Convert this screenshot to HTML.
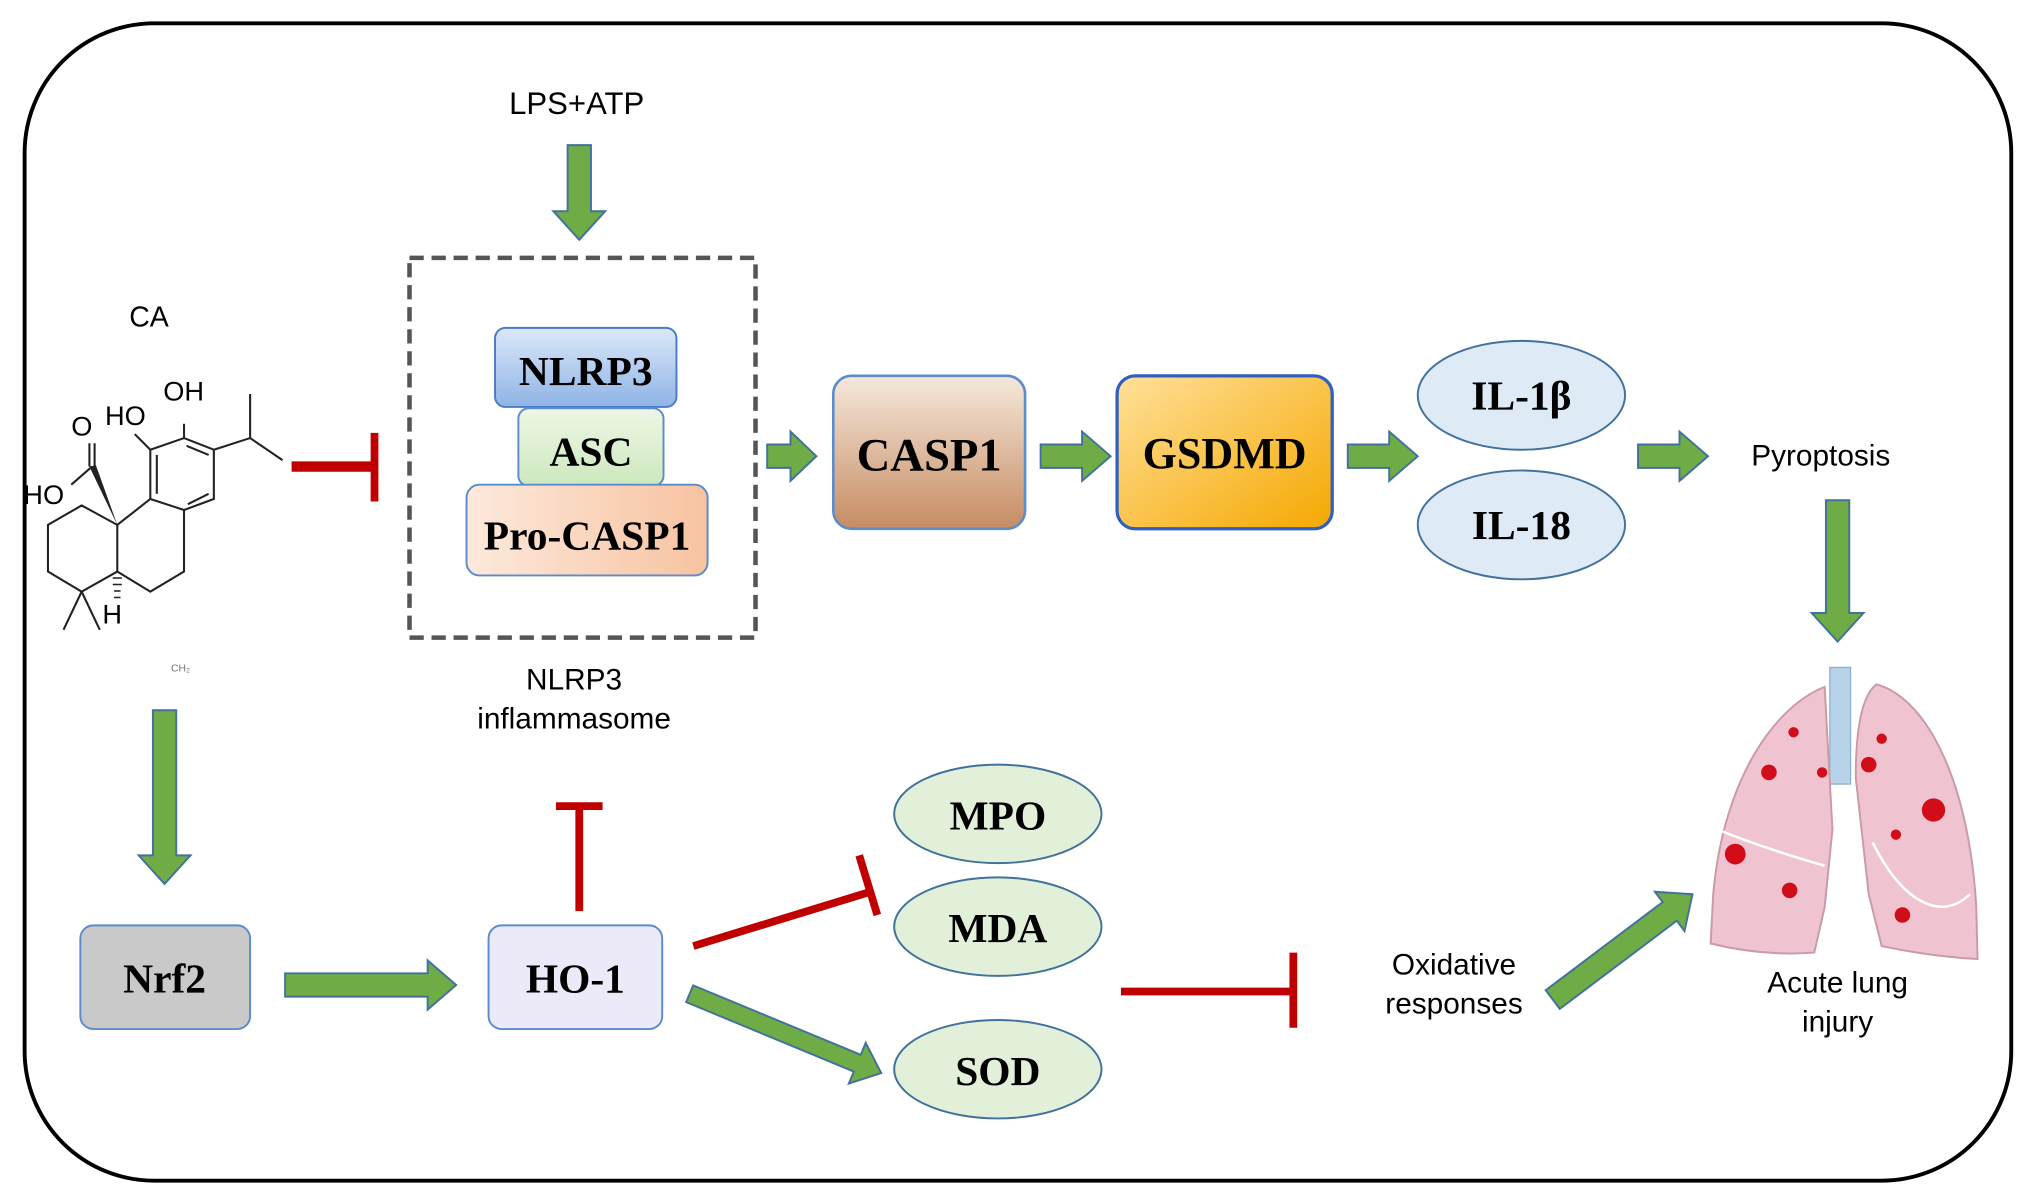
<!DOCTYPE html>
<html><head><meta charset="utf-8"><style>
html,body{margin:0;padding:0;background:#fff;}
svg{display:block;}
text{font-family:"Liberation Sans",sans-serif;}
.b{font-family:"Liberation Serif",serif;font-weight:bold;}
</style></head><body>
<svg width="2032" height="1204" viewBox="0 0 1568 929" preserveAspectRatio="none" xmlns="http://www.w3.org/2000/svg">
<defs>
<linearGradient id="gb" x1="0" y1="0" x2="0" y2="1"><stop offset="0" stop-color="#dbe8f8"/><stop offset="1" stop-color="#8fb4e6"/></linearGradient>
<linearGradient id="gg" x1="0" y1="0" x2="0" y2="1"><stop offset="0" stop-color="#eef7e6"/><stop offset="1" stop-color="#cce8bd"/></linearGradient>
<linearGradient id="go" x1="0" y1="0" x2="1" y2="0"><stop offset="0" stop-color="#fde9dc"/><stop offset="1" stop-color="#f7c3a0"/></linearGradient>
<linearGradient id="gc" x1="0" y1="0" x2="0" y2="1"><stop offset="0" stop-color="#f6e8dc"/><stop offset="1" stop-color="#c58c62"/></linearGradient>
<linearGradient id="gs" x1="0" y1="0" x2="1" y2="1"><stop offset="0" stop-color="#ffe09a"/><stop offset="1" stop-color="#f5a800"/></linearGradient>
</defs>
<rect x="19" y="18" width="1533" height="893" rx="100" fill="#fff" stroke="#000" stroke-width="3"/>

<g fill="#6fac46" stroke="#41719c" stroke-width="1.5">
<polygon points="438,112 456,112 456,163 467,163 447,185 427,163 438,163"/>
<polygon points="592,343 610,343 610,333 630,352 610,371 610,361 592,361"/>
<polygon points="803,343 835,343 835,333 857,352 835,371 835,361 803,361"/>
<polygon points="1040,343 1072,343 1072,333 1094,352 1072,371 1072,361 1040,361"/>
<polygon points="1264,343 1296,343 1296,333 1318,352 1296,371 1296,361 1264,361"/>
<polygon points="1409,386 1427,386 1427,473 1438,473 1418,495 1398,473 1409,473"/>
<polygon points="118,548 136,548 136,660 147,660 127,682 107,660 118,660"/>
<polygon points="220,751 330,751 330,741 352,760 330,779 330,769 220,769"/>
<g transform="translate(680,828) rotate(22.5)"><polygon points="0,0 -20,-17 -20,-7 -160,-7 -160,7 -20,7 -20,17"/></g>
<g transform="translate(1306,690) rotate(-37)"><polygon points="0,0 -22,-19 -22,-9 -135,-9 -135,9 -22,9 -22,19"/></g>
</g>

<g stroke="#c00000" fill="none">
<line x1="225" y1="360" x2="289" y2="360" stroke-width="8"/>
<line x1="289" y1="334" x2="289" y2="387" stroke-width="6"/>
<line x1="447" y1="703" x2="447" y2="622" stroke-width="6"/>
<line x1="429" y1="622" x2="465" y2="622" stroke-width="6"/>
<line x1="535" y1="730" x2="672" y2="688" stroke-width="6"/>
<line x1="663" y1="660" x2="677" y2="706" stroke-width="6"/>
<line x1="865" y1="765" x2="998" y2="765" stroke-width="6"/>
<line x1="998" y1="735" x2="998" y2="793" stroke-width="6"/>
</g>

<text x="445" y="88" font-size="24" text-anchor="middle">LPS+ATP</text>
<rect x="316" y="199" width="267" height="293" fill="none" stroke="#555" stroke-width="3.5" stroke-dasharray="11,6"/>
<rect x="382" y="253" width="140" height="61" rx="8" fill="url(#gb)" stroke="#4a7bc4" stroke-width="1.5"/>
<text x="452" y="297" font-size="32" class="b" text-anchor="middle">NLRP3</text>
<rect x="400" y="315" width="112" height="60" rx="8" fill="url(#gg)" stroke="#5b8ccc" stroke-width="1.5"/>
<text x="456" y="359" font-size="32" class="b" text-anchor="middle">ASC</text>
<rect x="360" y="374" width="186" height="70" rx="10" fill="url(#go)" stroke="#5b8ccc" stroke-width="1.5"/>
<text x="453" y="424" font-size="32" class="b" text-anchor="middle">Pro-CASP1</text>
<text x="443" y="532" font-size="23" text-anchor="middle">NLRP3</text>
<text x="443" y="562" font-size="23" text-anchor="middle">inflammasome</text>

<rect x="643" y="290" width="148" height="118" rx="14" fill="url(#gc)" stroke="#5b8ccc" stroke-width="2"/>
<text x="717" y="363" font-size="36" class="b" text-anchor="middle">CASP1</text>
<rect x="862" y="290" width="166" height="118" rx="14" fill="url(#gs)" stroke="#2f5fbf" stroke-width="2.5"/>
<text x="945" y="361" font-size="34" class="b" text-anchor="middle">GSDMD</text>

<g fill="#deeaf6" stroke="#41719c" stroke-width="1.5">
<ellipse cx="1174" cy="305" rx="80" ry="42"/>
<ellipse cx="1174" cy="405" rx="80" ry="42"/>
</g>
<text x="1174" y="316" font-size="32" class="b" text-anchor="middle">IL-1β</text>
<text x="1174" y="416" font-size="32" class="b" text-anchor="middle">IL-18</text>
<text x="1405" y="359" font-size="23" text-anchor="middle">Pyroptosis</text>

<g fill="#e2f0d9" stroke="#41719c" stroke-width="1.5">
<ellipse cx="770" cy="628" rx="80" ry="38"/>
<ellipse cx="770" cy="715" rx="80" ry="38"/>
<ellipse cx="770" cy="825" rx="80" ry="38"/>
</g>
<text x="770" y="640" font-size="32" class="b" text-anchor="middle">MPO</text>
<text x="770" y="727" font-size="32" class="b" text-anchor="middle">MDA</text>
<text x="770" y="837" font-size="32" class="b" text-anchor="middle">SOD</text>

<rect x="377" y="714" width="134" height="80" rx="10" fill="#eceaf8" stroke="#5b8ccc" stroke-width="1.5"/>
<text x="444" y="766" font-size="32" class="b" text-anchor="middle">HO-1</text>
<rect x="62" y="714" width="131" height="80" rx="10" fill="#c9c9c9" stroke="#5b8ccc" stroke-width="1.5"/>
<text x="127" y="766" font-size="32" class="b" text-anchor="middle">Nrf2</text>

<text x="1122" y="752" font-size="23" text-anchor="middle">Oxidative</text>
<text x="1122" y="782" font-size="23" text-anchor="middle">responses</text>
<text x="1418" y="766" font-size="23" text-anchor="middle">Acute lung</text>
<text x="1418" y="796" font-size="23" text-anchor="middle">injury</text>

<!-- molecule -->
<text x="115" y="252" font-size="22" text-anchor="middle">CA</text>
<g stroke="#222" stroke-width="1.6" fill="none">
<polyline points="116,347 142,338 165,347 165,385 142,393.5 116,385 116,347"/>
<line x1="121" y1="351" x2="121" y2="381"/><line x1="144" y1="344" x2="161" y2="351"/><line x1="145" y1="389" x2="161" y2="381"/>
<line x1="142" y1="338" x2="142" y2="327"/>
<line x1="116" y1="347" x2="104" y2="335"/>
<polyline points="165,347 193,338 193,304"/><line x1="193" y1="338" x2="218" y2="355"/>
<polyline points="116,385 90.5,405 90.5,441 116,456.5 142,441 142,393.5"/>
<polyline points="90.5,405 63,390 37,405 37,441 63,456.5 90.5,441"/>
<line x1="63" y1="456.5" x2="49" y2="486"/><line x1="63" y1="456.5" x2="77" y2="486"/>
<line x1="69" y1="342" x2="69" y2="360"/><line x1="73" y1="342" x2="73" y2="360"/>
<line x1="71" y1="360" x2="55" y2="374"/>
</g>
<polygon points="90.5,405 69,360 74,359" fill="#222"/>
<g stroke="#222" stroke-width="1.2"><line x1="87" y1="446" x2="94" y2="446"/><line x1="87" y1="451" x2="94" y2="451"/><line x1="88" y1="456" x2="93" y2="456"/><line x1="88" y1="461" x2="93" y2="461"/></g>
<g font-size="21" fill="#000">
<text x="81" y="328">HO</text><text x="126" y="309">OH</text><text x="55" y="336">O</text><text x="18" y="389">HO</text><text x="79" y="481">H</text>
</g>
<text x="132" y="518" font-size="8" fill="#777">CH₂</text>

<!-- lungs -->
<rect x="1412" y="515" width="16" height="90" fill="#b6d3ea" stroke="#8db0cf"/>
<path d="M1408,530 C1370,545 1330,600 1322,690 L1320,728 Q1360,738 1400,735 L1408,700 L1414,640 Z" fill="#efc3cf" stroke="#c99aa8" stroke-width="1.5"/>
<path d="M1448,528 C1490,540 1520,610 1525,700 L1526,740 Q1490,738 1452,730 L1442,690 L1432,600 Q1432,540 1448,528 Z" fill="#efc3cf" stroke="#c99aa8" stroke-width="1.5"/>
<path d="M1325,640 C1350,650 1380,660 1408,668" stroke="#fff" stroke-width="2" fill="none"/>
<path d="M1445,650 C1470,700 1500,710 1520,690" stroke="#fff" stroke-width="2" fill="none"/>
<g fill="#d10d1a">
<circle cx="1384" cy="565" r="4"/><circle cx="1365" cy="596" r="6"/><circle cx="1406" cy="596" r="4"/>
<circle cx="1339" cy="659" r="8"/><circle cx="1381" cy="687" r="6"/>
<circle cx="1452" cy="570" r="4"/><circle cx="1442" cy="590" r="6"/><circle cx="1492" cy="625" r="9"/><circle cx="1463" cy="644" r="4"/><circle cx="1468" cy="706" r="6"/>
</g>
</svg>
</body></html>
